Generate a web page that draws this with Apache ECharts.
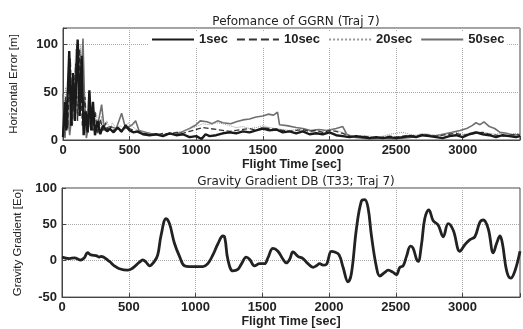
<!DOCTYPE html>
<html>
<head>
<meta charset="utf-8">
<script src="https://cdn.jsdelivr.net/npm/echarts@6/dist/echarts.min.js"></script>
<style>html,body{margin:0;padding:0;background:#fff}#c{width:523px;height:329px}</style>
</head>
<body>
<div id="c"></div>
<script>
// ---- data ----
var title1 = 'Pefomance of GGRN (Traj 7)';
var title2 = 'Gravity Gradient DB (T33; Traj 7)';
var seriesNames = ['1sec', '10sec', '20sec', '50sec'];
var xTicks = [0, 500, 1000, 1500, 2000, 2500, 3000];
var yTicksTop = [0, 50, 100];
var yTicksBottom = [-50, 0, 50, 100];

var err1 = [[0,3],[15,40],[25,10],[47,93],[60,15],[75,70],[90,20],[110,105],[125,25],[140,88],[155,5],[170,30],[185,8],[198,52],[212,10],[225,40],[240,5],[260,20],[280,6],[300,15],[330,9],[350,12],[380,8],[410,13],[440,9],[470,15],[500,10],[530,8],[560,9],[600,6],[650,5],[700,6],[750,4],[800,7],[850,5],[900,6],[950,3],[1000,4],[1040,1],[1070,6],[1100,4],[1150,5],[1200,7],[1250,8],[1300,7],[1350,9],[1400,8],[1450,10],[1500,12],[1550,10],[1600,11],[1650,8],[1700,9],[1750,7],[1800,9],[1850,6],[1900,7],[1950,6],[2000,8],[2050,5],[2100,4],[2150,3],[2200,4],[2250,3],[2300,2],[2350,3],[2400,2],[2450,3],[2500,2],[2550,3],[2600,4],[2650,3],[2700,5],[2750,4],[2800,3],[2850,2],[2900,4],[2950,5],[3000,3],[3050,6],[3100,8],[3150,6],[3200,5],[3250,3],[3300,5],[3350,4],[3400,3],[3430,4]];

var err10 = [[0,8],[20,45],[35,12],[55,85],[70,15],[95,80],[110,20],[125,95],[145,15],[165,45],[180,8],[200,40],[220,10],[240,30],[260,6],[280,22],[300,10],[320,18],[340,8],[360,14],[380,10],[410,12],[440,8],[470,16],[500,12],[530,10],[560,8],[600,7],[650,6],[700,5],[750,7],[800,6],[850,8],[900,7],[950,9],[1000,11],[1050,13],[1100,12],[1150,11],[1200,10],[1250,9],[1300,10],[1350,11],[1400,12],[1450,10],[1500,13],[1550,12],[1600,11],[1650,10],[1700,9],[1750,10],[1800,11],[1850,9],[1900,10],[1950,8],[2000,10],[2050,9],[2100,7],[2150,4],[2200,3],[2250,4],[2300,3],[2350,2],[2400,3],[2450,4],[2500,3],[2550,4],[2600,5],[2650,4],[2700,6],[2750,5],[2800,4],[2850,5],[2900,6],[2950,7],[3000,5],[3050,6],[3100,7],[3150,8],[3200,6],[3250,5],[3300,4],[3350,5],[3400,6],[3430,5]];

var err20 = [[0,20],[20,55],[35,15],[55,80],[75,20],[95,95],[110,25],[130,100],[150,20],[170,30],[190,8],[210,35],[230,15],[250,28],[270,8],[290,25],[310,12],[330,20],[350,10],[370,18],[400,12],[430,15],[460,10],[490,18],[520,14],[550,11],[580,9],[610,8],[650,7],[700,6],[750,5],[800,6],[850,8],[900,9],[950,12],[1000,14],[1050,17],[1100,16],[1150,18],[1200,17],[1250,15],[1300,13],[1350,14],[1400,12],[1450,13],[1500,15],[1550,13],[1600,12],[1650,11],[1700,10],[1750,11],[1800,10],[1850,9],[1900,10],[1950,9],[2000,11],[2050,10],[2100,8],[2150,5],[2200,4],[2250,5],[2300,4],[2350,3],[2400,4],[2450,6],[2500,7],[2550,8],[2600,6],[2650,5],[2700,7],[2750,6],[2800,5],[2850,6],[2900,7],[2950,8],[3000,6],[3050,7],[3100,9],[3150,8],[3200,7],[3250,6],[3300,7],[3350,6],[3400,7],[3430,6]];

var err50 = [[0,48],[15,2],[30,40],[50,5],[70,30],[90,55],[105,100],[120,45],[135,60],[150,106],[160,50],[175,2],[200,20],[230,10],[260,15],[290,37],[310,10],[350,14],[400,12],[440,28],[470,12],[520,16],[545,20],[570,10],[620,8],[680,6],[740,5],[800,7],[850,6],[900,9],[950,12],[1000,16],[1030,20],[1080,19],[1120,17],[1160,20],[1200,18],[1260,17],[1300,19],[1350,21],[1400,22],[1450,24],[1500,25],[1540,27],[1580,26],[1610,29],[1625,16],[1680,15],[1750,13],[1800,12],[1860,10],[1920,11],[1980,10],[2050,12],[2100,14],[2130,6],[2180,3],[2250,2],[2300,1],[2400,2],[2480,1],[2550,2],[2620,3],[2700,5],[2780,4],[2850,6],[2920,8],[2980,10],[3030,12],[3070,15],[3100,18],[3130,16],[3160,19],[3200,14],[3240,12],[3280,8],[3330,7],[3380,5],[3430,6]];

var gravGrad = [[0,5],[55,3],[92,4],[142,1],[167,4],[192,11],[217,8],[255,7],[280,5],[292,6],[355,-1],[392,-7],[430,-11],[492,-13],[530,-10],[580,-2],[605,1],[630,-2],[655,-7],[692,-1],[717,8],[742,35],[780,58],[805,51],[842,24],[880,6],[917,-7],[955,-8],[1005,-8],[1055,-8],[1092,-4],[1130,8],[1167,23],[1205,34],[1220,31],[1242,2],[1280,-14],[1317,-12],[1342,-5],[1380,5],[1405,2],[1442,-7],[1480,-4],[1517,-4],[1542,4],[1580,17],[1617,13],[1655,2],[1680,-3],[1705,2],[1730,12],[1767,6],[1805,3],[1842,-4],[1880,-9],[1905,-7],[1930,-4],[1955,-6],[1980,-5],[2017,13],[2042,12],[2075,8],[2105,-9],[2142,-29],[2167,-18],[2205,44],[2242,82],[2267,84],[2292,73],[2317,35],[2355,-9],[2380,-21],[2417,-16],[2442,-13],[2480,-16],[2505,-19],[2530,-9],[2555,-7],[2580,6],[2610,20],[2630,17],[2655,2],[2667,-1],[2692,22],[2717,58],[2747,70],[2780,55],[2817,49],[2855,33],[2892,51],[2930,42],[2980,13],[3017,22],[3055,29],[3092,33],[3130,53],[3155,56],[3192,44],[3230,11],[3255,24],[3280,34],[3300,22],[3330,-14],[3360,-24],[3392,-14],[3430,13]];

var xMax = 3430;
var yMaxTop = 117;

// ---- chart ----
var FONT = 'Liberation Sans';
var chart = echarts.init(document.getElementById('c'), null, {renderer: 'canvas'});

function xAxisCfg(gi) {
  return {
    type: 'value', gridIndex: gi, min: 0, max: xMax, interval: 500,
    name: 'Flight Time [sec]', nameLocation: 'middle', nameGap: 17,
    nameTextStyle: {fontFamily: FONT, fontSize: 12.5, fontWeight: 'bold', color: '#222'},
    axisLine: {show: true, onZero: false, lineStyle: {color: '#444', width: 1}},
    axisTick: {show: true, inside: true, length: 4, lineStyle: {color: '#444'}},
    axisLabel: {fontFamily: FONT, fontSize: 13, fontWeight: 'bold', color: '#222', margin: 4,
      formatter: function (v) { return xTicks.indexOf(v) >= 0 ? String(v) : ''; }},
    splitLine: {show: true, lineStyle: {color: '#aaa', type: 'dotted', width: 1}}
  };
}
function yAxisCfg(gi, name, min, max, ticks, gap) {
  return {
    type: 'value', gridIndex: gi, min: min, max: max, interval: 50,
    name: name, nameLocation: 'middle', nameGap: gap,
    nameTextStyle: {fontFamily: FONT, fontSize: 11.5, color: '#222'},
    axisLine: {show: true, onZero: false, lineStyle: {color: '#444', width: 1}},
    axisTick: {show: true, inside: true, length: 4, lineStyle: {color: '#444'}},
    axisLabel: {fontFamily: FONT, fontSize: 13, fontWeight: 'bold', color: '#222', margin: 5,
      formatter: function (v) { return ticks.indexOf(v) >= 0 ? String(v) : ''; }},
    splitLine: {show: true, lineStyle: {color: '#aaa', type: 'dotted', width: 1}}
  };
}

var option = {
  animation: false,
  backgroundColor: '#fff',
  title: [
    {text: title1, left: 291, textAlign: 'center', top: 11,
     textStyle: {fontFamily: 'DejaVu Sans', fontSize: 12, fontWeight: 'normal', color: '#222'}},
    {text: title2, left: 291, textAlign: 'center', top: 171,
     textStyle: {fontFamily: 'DejaVu Sans', fontSize: 12, fontWeight: 'normal', color: '#222'}}
  ],
  legend: {
    data: seriesNames, left: 148, top: 31, width: 372, itemWidth: 42, itemHeight: 10, itemGap: 8,
    backgroundColor: '#fff', padding: [2, 3],
    itemStyle: {opacity: 0},
    textStyle: {fontFamily: FONT, fontSize: 13, fontWeight: 'bold', color: '#222'}
  },
  grid: [
    {left: 62, right: 3, top: 28, height: 112, show: true, borderColor: '#444', borderWidth: 1, backgroundColor: 'transparent'},
    {left: 62, right: 3, top: 188, height: 112, show: true, borderColor: '#444', borderWidth: 1, backgroundColor: 'transparent'}
  ],
  xAxis: [xAxisCfg(0), xAxisCfg(1)],
  yAxis: [
    yAxisCfg(0, 'Horizontal Error [m]', 0, yMaxTop, yTicksTop, 43),
    yAxisCfg(1, 'Gravity Gradient [Eo]', -50, 100, yTicksBottom, 38)
  ],
  series: [
    {name: '50sec', type: 'line', xAxisIndex: 0, yAxisIndex: 0, data: err50, symbol: 'none',
     lineStyle: {color: '#6f6f6f', width: 1.6}, itemStyle: {color: '#6f6f6f'}},
    {name: '20sec', type: 'line', xAxisIndex: 0, yAxisIndex: 0, data: err20, symbol: 'none',
     lineStyle: {color: '#999', width: 1, type: 'dotted'}, itemStyle: {color: '#999'}},
    {name: '10sec', type: 'line', xAxisIndex: 0, yAxisIndex: 0, data: err10, symbol: 'none',
     lineStyle: {color: '#333', width: 1.3, type: 'dashed'}, itemStyle: {color: '#333'}},
    {name: '1sec', type: 'line', xAxisIndex: 0, yAxisIndex: 0, data: err1, symbol: 'none',
     lineStyle: {color: '#1a1a1a', width: 2.4}, itemStyle: {color: '#1a1a1a'}},
    {name: 'gg', type: 'line', xAxisIndex: 1, yAxisIndex: 1, data: gravGrad, symbol: 'none', smooth: 0.4,
     lineStyle: {color: '#222', width: 2.8}}
  ]
};
chart.setOption(option);
</script>
</body>
</html>
